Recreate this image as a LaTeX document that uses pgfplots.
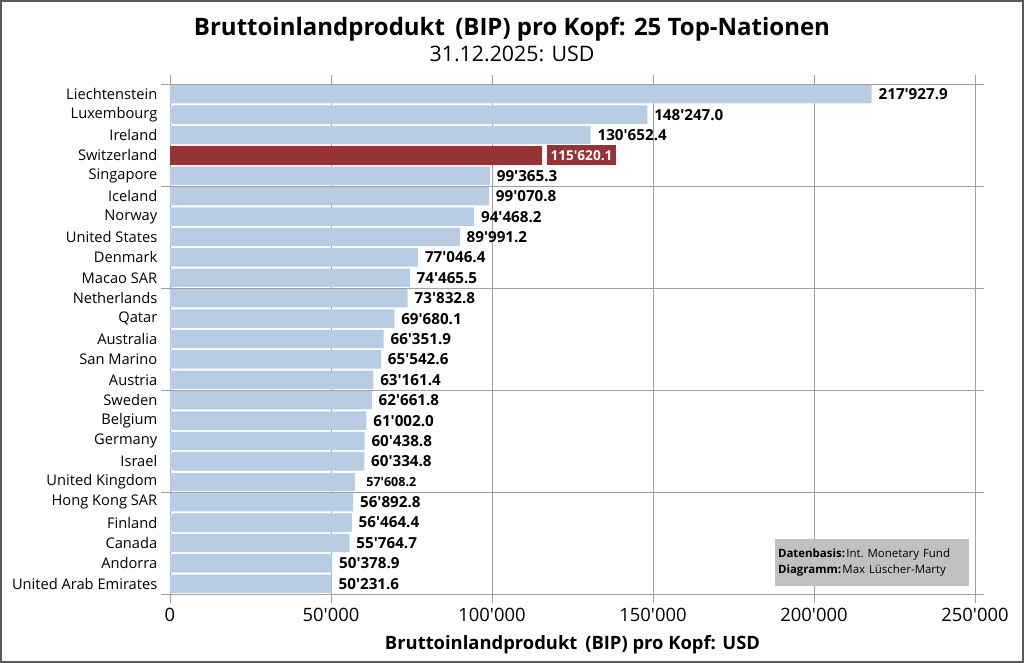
\documentclass[border=0pt]{standalone}
\usepackage{pgfplots}
\pgfplotsset{compat=1.18}
\usepackage{fontspec}
\setmainfont{Open Sans}[Ligatures=TeXOff]
\definecolor{barblue}{RGB}{184,204,228}
\definecolor{barred}{RGB}{150,52,52}
\definecolor{gridgray}{RGB}{160,160,160}
\definecolor{boxgray}{RGB}{192,192,192}
\definecolor{framegray}{RGB}{90,90,90}
\begin{document}
\begin{tikzpicture}
\begin{axis}[
  scale only axis,
  width=603.75pt, height=382.5pt,
  xbar, bar width=0.9, bar shift=0pt,
  xmin=0, xmax=250000,
  ymin=-0.5, ymax=24.5, y dir=reverse,
  axis line style={draw=gridgray},
  xtick={0,50000,100000,150000,200000,250000},
  xticklabels={0,50'000,100'000,150'000,200'000,250'000},
  scaled x ticks=false,
  xmajorgrids, ymajorgrids,
  grid style={draw=gridgray, line width=0.6pt},
  tick align=outside,
  major tick style={draw=gridgray, line width=0.6pt},
  major tick length=7pt,
  ytick={-0.5,4.5,9.5,14.5,19.5,24.5},
  yticklabels={},
  extra y ticks={0,1,...,24},
  extra y tick labels={Liechtenstein,Luxembourg,Ireland,Switzerland,Singapore,Iceland,Norway,United States,Denmark,Macao SAR,Netherlands,Qatar,Australia,San Marino,Austria,Sweden,Belgium,Germany,Israel,United Kingdom,Hong Kong SAR,Finland,Canada,Andorra,United Arab Emirates},
  extra y tick style={major tick length=0pt, grid=none, yticklabel style={font=\fontsize{11}{13}\selectfont, xshift=-6pt}},
  xticklabel style={font=\fontsize{13.8}{16}\selectfont},
  xlabel={\bfseries Bruttoinlandprodukt\, (BIP) pro Kopf: USD},
  xlabel style={font=\fontsize{13.8}{16}\selectfont, at={(axis description cs:0.5,0)}, anchor=center, yshift=-38.25pt},
  point meta=explicit symbolic,
  nodes near coords,
  every node near coord/.append style={font=\bfseries\fontsize{11.4}{13}\selectfont, anchor=west, inner sep=1pt, xshift=4pt},
  clip=false,
]
\addplot[fill=barblue, draw=none] coordinates {
(217927.9,0) [217'927.9]
(148247.0,1) [148'247.0]
(130652.4,2) [130'652.4]
(99365.3,4) [99'365.3]
(99070.8,5) [99'070.8]
(94468.2,6) [94'468.2]
(89991.2,7) [89'991.2]
(77046.4,8) [77'046.4]
(74465.5,9) [74'465.5]
(73832.8,10) [73'832.8]
(69680.1,11) [69'680.1]
(66351.9,12) [66'351.9]
(65542.6,13) [65'542.6]
(63161.4,14) [63'161.4]
(62661.8,15) [62'661.8]
(61002.0,16) [61'002.0]
(60438.8,17) [60'438.8]
(60334.8,18) [60'334.8]
(56892.8,20) [56'892.8]
(56464.4,21) [56'464.4]
(55764.7,22) [55'764.7]
(50378.9,23) [50'378.9]
(50231.6,24) [50'231.6]
};
\addplot[fill=barblue, draw=none, every node near coord/.append style={font=\bfseries\fontsize{9.4}{11}\selectfont, xshift=3pt}] coordinates {
(57608.2,19) [57'608.2]
};
\addplot[fill=barred, draw=none, every node near coord/.append style={fill=barred, text=white, font=\bfseries\fontsize{10.2}{12}\selectfont, inner sep=2.5pt, minimum height=15pt, xshift=-0.5pt}] coordinates {
(115620.1,3) [115'620.1]
};
\node[fill=boxgray, anchor=south east, align=left, inner sep=2pt, minimum width=145pt, minimum height=35pt, text width=141pt, font=\fontsize{8.6}{12.5}\selectfont]
  at (rel axis cs:0.9925,0.0157) {\textbf{Datenbasis:}\kern1pt Int.\ Monetary Fund\\\textbf{Diagramm:}\kern1pt Max Lüscher-Marty};
\coordinate (O) at (rel axis cs:0,0);
\end{axis}
\draw[framegray, line width=1.2pt] ([shift={(-126.9pt,-51.15pt)}]O) rectangle ([shift={(639.9pt,444.9pt)}]O);
\useasboundingbox ([shift={(-127.5pt,-51.75pt)}]O) rectangle ([shift={(640.5pt,445.5pt)}]O);
\node[font=\bfseries\fontsize{18}{21}\selectfont] at ([shift={(256.5pt,423.5pt)}]O) {Bruttoinlandprodukt\, (BIP) pro Kopf: 25 Top-Nationen};
\node[font=\fontsize{16}{19}\selectfont] at ([shift={(256.5pt,405pt)}]O) {31.12.2025: USD};
\end{tikzpicture}
\end{document}
